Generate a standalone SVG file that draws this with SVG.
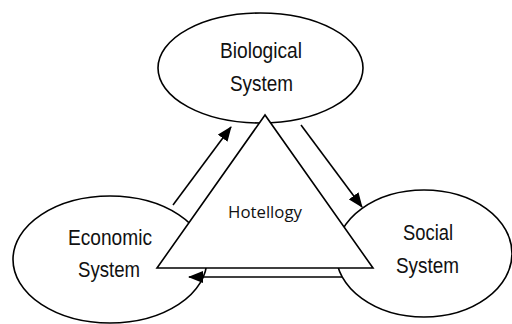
<svg xmlns="http://www.w3.org/2000/svg" width="512" height="324" viewBox="0 0 512 324">
<defs>
<style>
.sh{fill:#fff;stroke:#000;stroke-width:1.6}
.ln{fill:none;stroke:#000;stroke-width:1.6}
.t{font-family:"Liberation Sans",Arial,sans-serif;font-size:22.5px;fill:#111;text-anchor:middle}
.h{font-family:"Open Sans","Liberation Sans",sans-serif;font-size:17px;fill:#111;text-anchor:middle}
</style>
<marker id="ah" markerUnits="userSpaceOnUse" markerWidth="15" markerHeight="12" viewBox="0 0 15 12" refX="14" refY="6" orient="auto">
<path d="M0,0 L15,6 L0,12 Z" fill="#000"/>
</marker>
</defs>
<rect width="512" height="324" fill="#fff"/>
<g id="biological">
<ellipse class="sh" cx="260.5" cy="68" rx="102.5" ry="55"/>
</g>
<g id="economic">
<ellipse class="sh" cx="110" cy="259.5" rx="97" ry="63.5"/>
</g>
<g id="social">
<ellipse class="sh" cx="424" cy="253.5" rx="88" ry="63.5"/>
</g>
<g id="connectors">
<line class="ln" x1="173" y1="205" x2="231" y2="127" marker-end="url(#ah)"/>
<line class="ln" x1="301" y1="125" x2="362" y2="207" marker-end="url(#ah)"/>
<line class="ln" x1="342" y1="277" x2="189" y2="277" marker-end="url(#ah)"/>
</g>
<g id="hotellogy">
<polygon class="sh" points="265,115 157,268 373,268"/>
<text class="h" x="265" y="218" textLength="74" lengthAdjust="spacingAndGlyphs">Hotellogy</text>
</g>
<g id="labels">
<text class="t" x="261" y="58" textLength="82" lengthAdjust="spacingAndGlyphs">Biological</text>
<text class="t" x="261.5" y="91" textLength="63" lengthAdjust="spacingAndGlyphs">System</text>
<text class="t" x="110" y="245" textLength="84" lengthAdjust="spacingAndGlyphs">Economic</text>
<text class="t" x="109" y="277" textLength="62" lengthAdjust="spacingAndGlyphs">System</text>
<text class="t" x="428" y="240" textLength="50" lengthAdjust="spacingAndGlyphs">Social</text>
<text class="t" x="427.5" y="273" textLength="63" lengthAdjust="spacingAndGlyphs">System</text>
</g>
</svg>
